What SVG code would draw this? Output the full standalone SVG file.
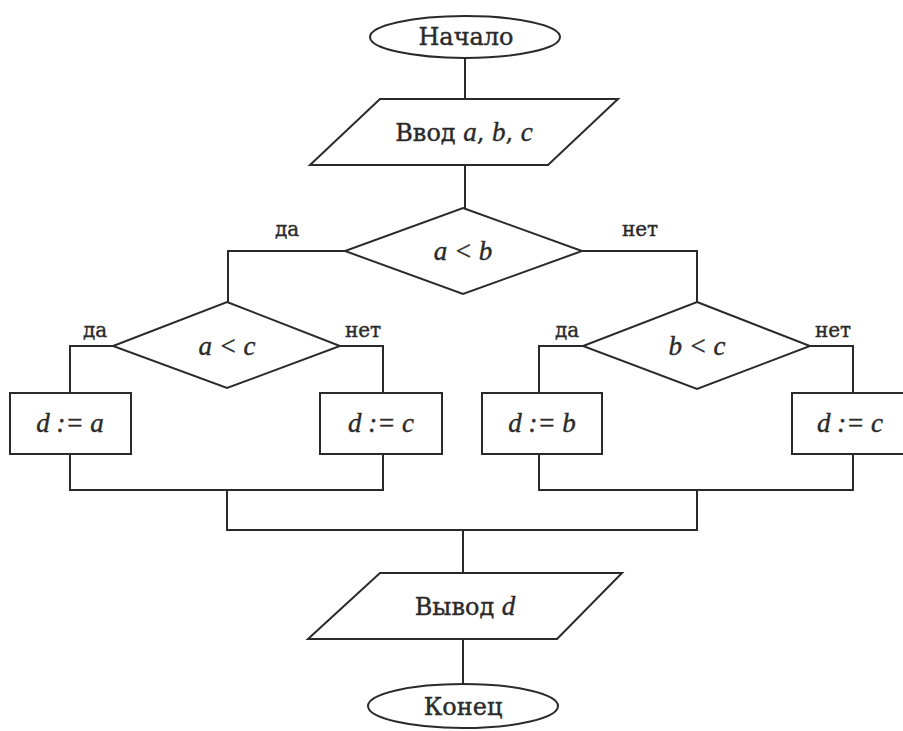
<svg xmlns="http://www.w3.org/2000/svg" width="903" height="731" viewBox="0 0 903 731">
<style>
.s{fill:#fff;stroke:#2a2a2a;stroke-width:2}
.c{fill:none;stroke:#2a2a2a;stroke-width:2}
text{font-family:"DejaVu Serif","Liberation Serif",serif;font-size:24px;fill:#2a2a2a;stroke:#2a2a2a;stroke-width:0.4}
.t{text-anchor:middle}
.l{font-size:20px}
.i{font-style:italic;font-family:"Liberation Serif","DejaVu Serif",serif;font-size:27px}
</style>
<rect width="903" height="731" fill="#fff"/>
<g id="connectors">
<path class="c" d="M465 58V99M465 165V208"/>
<path class="c" d="M345 251H228V302M582 251H697V302"/>
<path class="c" d="M113 346H70V393M340 346H383V393M70 454V490H383V454"/>
<path class="c" d="M583 346H539V393M810 346H853V393M539 454V490H853V454"/>
<path class="c" d="M227 490V530H697V490M463 530V573M463 639V683"/>
</g>
<g id="start"><ellipse class="s" cx="465" cy="37" rx="95" ry="21"/><text class="t" x="466" y="45">Начало</text></g>
<g id="input"><polygon class="s" points="380,99 618,99 548,165 310,165"/><text class="t" x="464" y="141">Ввод <tspan class="i">a</tspan>, <tspan class="i">b</tspan>, <tspan class="i">c</tspan></text></g>
<g id="dec1"><polygon class="s" points="463,208 582,251 463,294 345,251"/><text class="t i" x="463" y="260">a &lt; b</text>
<text class="l t" x="287" y="236">да</text><text class="l t" x="640" y="236">нет</text></g>
<g id="dec2"><polygon class="s" points="227,302 340,346 227,388 113,346"/><text class="t i" x="227" y="355">a &lt; c</text>
<text class="l t" x="95" y="337">да</text><text class="l t" x="363" y="337">нет</text></g>
<g id="dec3"><polygon class="s" points="697,302 810,346 697,389 583,346"/><text class="t i" x="697" y="355">b &lt; c</text>
<text class="l t" x="567" y="337">да</text><text class="l t" x="833" y="337">нет</text></g>
<g id="box1"><rect class="s" x="10" y="393" width="121" height="61"/><text class="t i" x="70" y="432">d := a</text></g>
<g id="box2"><rect class="s" x="320" y="393" width="122" height="61"/><text class="t i" x="381" y="432">d := c</text></g>
<g id="box3"><rect class="s" x="482" y="393" width="120" height="61"/><text class="t i" x="542" y="432">d := b</text></g>
<g id="box4"><rect class="s" x="792" y="393" width="125" height="61"/><text class="t i" x="850" y="432">d := c</text></g>
<g id="output"><polygon class="s" points="380,573 622,573 557,639 308,639"/><text class="t" x="465" y="615">Вывод <tspan class="i">d</tspan></text></g>
<g id="end"><ellipse class="s" cx="463" cy="706" rx="95" ry="22"/><text class="t" x="463" y="715">Конец</text></g>
</svg>
